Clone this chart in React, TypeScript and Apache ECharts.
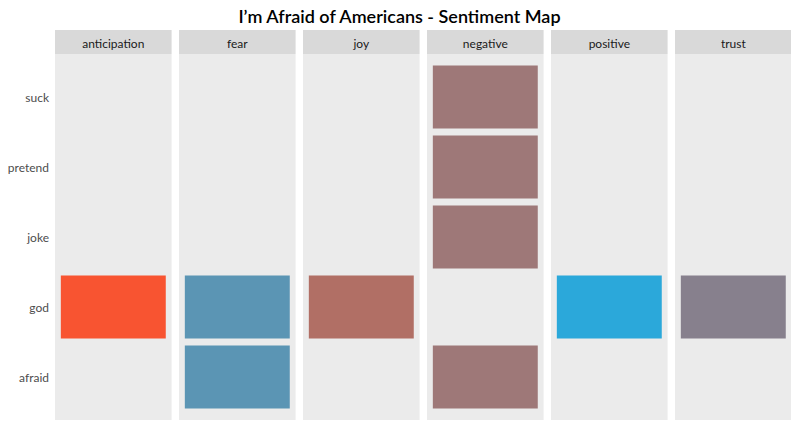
import React, { useEffect, useRef } from "react";
import * as echarts from "echarts";

const TITLE = "I\u2019m Afraid of Americans - Sentiment Map";
const sentiments = ["anticipation", "fear", "joy", "negative", "positive", "trust"];
// bottom-to-top order on the y axis
const words = ["afraid", "god", "joke", "pretend", "suck"];
const sentimentWords: Record<string, string[]> = {};
const anticipationWords = ["god"];
const fearWords = ["god", "afraid"];
const joyWords = ["god"];
const negativeWords = ["suck", "pretend", "joke", "afraid"];
const positiveWords = ["god"];
const trustWords = ["god"];
sentimentWords.anticipation = anticipationWords;
sentimentWords.fear = fearWords;
sentimentWords.joy = joyWords;
sentimentWords.negative = negativeWords;
sentimentWords.positive = positiveWords;
sentimentWords.trust = trustWords;
const colors = ["#F85431", "#5B95B4", "#B16F65", "#9E7878", "#2BA8DA", "#87808D"];

export default function App() {
  const ref = useRef<HTMLDivElement>(null);
  useEffect(() => {
    if (!ref.current) return;
    const chart = echarts.init(ref.current, undefined, { renderer: "svg" });
    const font = "Lato, 'Open Sans', sans-serif";
    const left0 = 55;
    const pw = 116.6;
    const gap = 7.4;
    const panelTop = 54;
    const panelBottom = 420;
    const gridTop = 62;
    const gridBottom = 412;
    const grids: any[] = [];
    const xAxes: any[] = [];
    const yAxes: any[] = [];
    const series: any[] = [];
    const graphics: any[] = [];
    sentiments.forEach((s, i) => {
      const left = left0 + i * (pw + gap);
      grids.push({ left, width: pw, top: gridTop, height: gridBottom - gridTop, containLabel: false });
      xAxes.push({
        gridIndex: i, type: "category", data: [s], show: false,
      });
      yAxes.push({
        gridIndex: i, type: "category", data: words,
        axisLine: { show: false }, axisTick: { show: false }, splitLine: { show: false },
        axisLabel: { show: i === 0, color: "#4D4D4D", fontSize: 12, fontFamily: font, margin: 6, padding: [2, 0, 0, 0] },
      });
      graphics.push({
        type: "rect", z: -10,
        shape: { x: left, y: panelTop, width: pw, height: panelBottom - panelTop },
        style: { fill: "#EBEBEB" },
      });
      graphics.push({
        type: "rect", z: -10,
        shape: { x: left, y: 30, width: pw, height: 24 },
        style: { fill: "#D9D9D9" },
      });
      graphics.push({
        type: "text", z: 10, x: left + pw / 2, y: 43,
        style: { text: s, fill: "#1A1A1A", fontSize: 12, fontFamily: font, align: "center", verticalAlign: "middle" },
      });
      series.push({
        type: "custom", xAxisIndex: i, yAxisIndex: i, z: 2,
        data: sentimentWords[s].map((w) => [s, w]),
        itemStyle: { color: colors[i] },
        renderItem: (params: any, api: any) => {
          const c = api.coord([api.value(0), api.value(1)]);
          const size = api.size([1, 1]);
          const w = size[0] * 0.9;
          const h = size[1] * 0.9;
          return {
            type: "rect",
            shape: { x: c[0] - w / 2, y: c[1] - h / 2, width: w, height: h },
            style: { fill: colors[i] },
          };
        },
      });
    });
    chart.setOption({
      animation: false,
      backgroundColor: "#FFFFFF",
      title: {
        text: TITLE, left: "center", top: 2,
        textStyle: { fontFamily: font, fontSize: 18, fontWeight: 600, color: "#000000" },
      },
      grid: grids,
      xAxis: xAxes,
      yAxis: yAxes,
      series,
      graphic: graphics,
    });
    return () => chart.dispose();
  }, []);
  return <div ref={ref} style={{ width: 799, height: 431, margin: -8 }} />;
}
